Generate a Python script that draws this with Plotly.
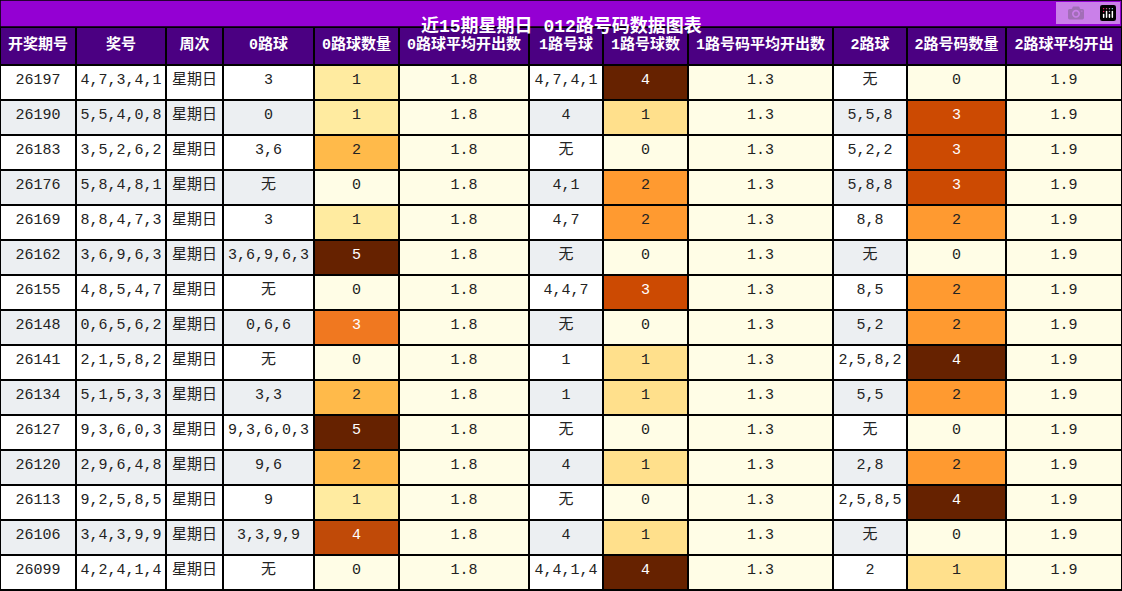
import plotly.graph_objects as go

title = "近15期星期日 012路号码数据图表"
headers = ["开奖期号","奖号","周次","0路球","0路球数量","0路球平均开出数","1路号球","1路号球数","1路号码平均开出数","2路球","2路号码数量","2路球平均开出"]
issues = ["26197","26190","26183","26176","26169","26162","26155","26148","26141","26134","26127","26120","26113","26106","26099"]
draws = ["4,7,3,4,1","5,5,4,0,8","3,5,2,6,2","5,8,4,8,1","8,8,4,7,3","3,6,9,6,3","4,8,5,4,7","0,6,5,6,2","2,1,5,8,2","5,1,5,3,3","9,3,6,0,3","2,9,6,4,8","9,2,5,8,5","3,4,3,9,9","4,2,4,1,4"]
weekday = ["星期日"]*15
r0 = ["3","0","3,6","无","3","3,6,9,6,3","无","0,6,6","无","3,3","9,3,6,0,3","9,6","9","3,3,9,9","无"]
c0 = [1,1,2,0,1,5,0,3,0,2,5,2,1,4,0]
a0 = ["1.8"]*15
r1 = ["4,7,4,1","4","无","4,1","4,7","无","4,4,7","无","1","1","无","4","无","4","4,4,1,4"]
c1 = [4,1,0,2,2,0,3,0,1,1,0,1,0,1,4]
a1 = ["1.3"]*15
r2 = ["无","5,5,8","5,2,2","5,8,8","8,8","无","8,5","5,2","2,5,8,2","5,5","无","2,8","2,5,8,5","无","2"]
c2 = [0,3,3,3,2,0,2,2,4,2,0,2,4,0,1]
a2 = ["1.9"]*15

widths = [76,90,57,91,85,130,74,85,145,74,99,116]
CREAM = "#FFFDE6"; GRAY = "#ECEFF2"; WHITE = "#FFFFFF"
scale5 = {0:CREAM,1:"#FFEBA0",2:"#FFBA4A",3:"#F07820",4:"#C04A08",5:"#662200"}
scale4 = {0:CREAM,1:"#FFE08C",2:"#FF9A30",3:"#CC4A02",4:"#662200"}
alt = [WHITE if i%2==0 else GRAY for i in range(15)]

def cfill(c, sc): return [sc[v] for v in c]
def ccol(c): return ["white" if v>=3 else "#222" for v in c]

values = [issues,draws,weekday,r0,[str(v) for v in c0],a0,r1,[str(v) for v in c1],a1,r2,[str(v) for v in c2],a2]
fills = [alt,alt,alt,alt,cfill(c0,scale5),[CREAM]*15,alt,cfill(c1,scale4),[CREAM]*15,alt,cfill(c2,scale4),[CREAM]*15]
dark = ["#222"]*15
fcols = [dark,dark,dark,dark,ccol(c0),dark,dark,ccol(c1),dark,dark,ccol(c2),dark]

FONT = "Liberation Mono, DejaVu Sans Mono, Noto Sans CJK SC"
fig = go.Figure(go.Table(
    columnwidth=widths,
    header=dict(values=[f"<b>{h}</b>" for h in headers], fill_color="#4B0082",
                font=dict(color="white", size=15, family=FONT), align="center",
                height=38, line=dict(color="black", width=1.5)),
    cells=dict(values=values, fill_color=fills, font=dict(color=fcols, size=15, family=FONT),
               align="center", height=35, line=dict(color="black", width=1.5)),
    domain=dict(x=[0,1], y=[0, 564/591]),
))
fig.add_shape(type="rect", xref="paper", yref="paper", x0=0, x1=1, y0=564/591, y1=1,
              fillcolor="#9400D3", line=dict(color="black", width=1.5))
fig.add_annotation(text=f"<b>{title}</b>", xref="paper", yref="paper", x=0.5, y=(1+564/591)/2,
                   showarrow=False, font=dict(color="white", size=18, family=FONT))
fig.update_layout(width=1122, height=591, margin=dict(l=0,r=0,t=0,b=0), paper_bgcolor="white")
fig.write_html("out.html")

with open("out.html", encoding="utf-8") as f:
    html = f.read()
html = html.replace("<body>", "<body style=\"margin:0;overflow:hidden\">", 1)
with open("out.html", "w", encoding="utf-8") as f:
    f.write(html)
